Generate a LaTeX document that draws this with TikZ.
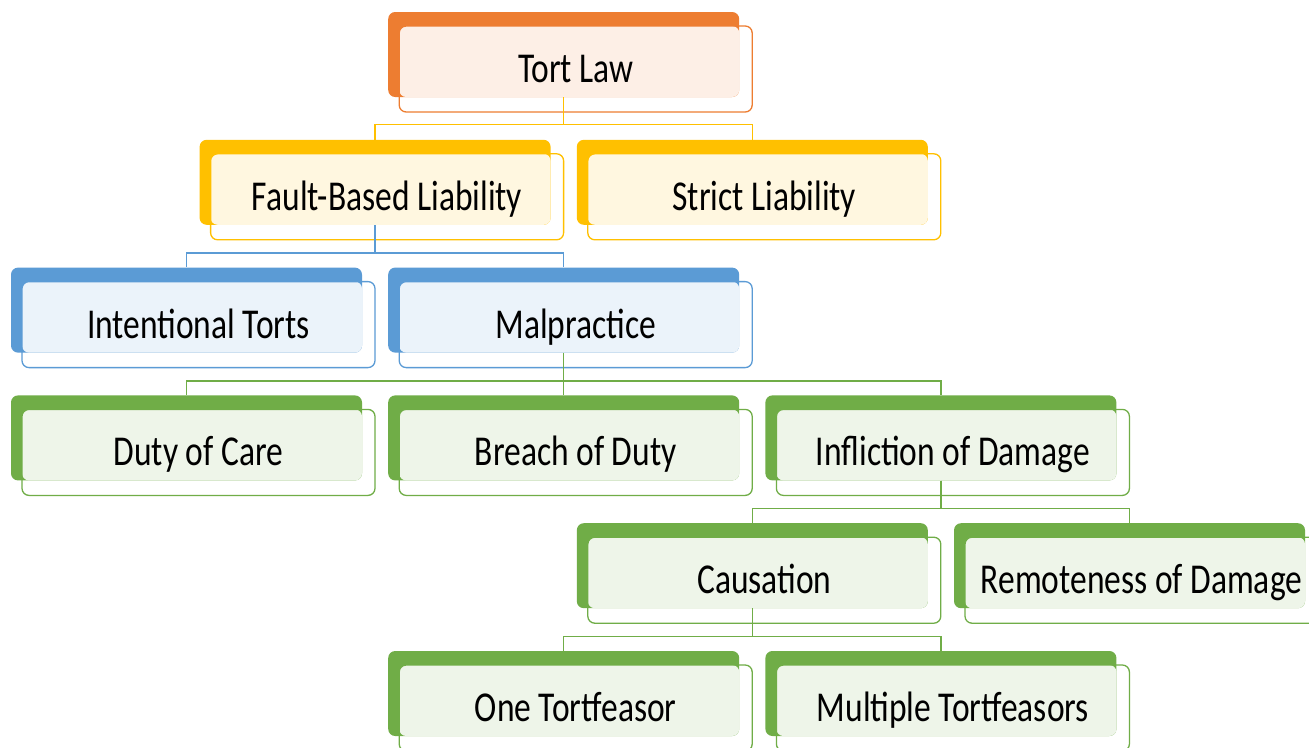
\documentclass[tikz,border=0pt]{standalone}
\usepackage{fontspec}
\setmainfont{Carlito}
\usepackage{graphicx}
\definecolor{cOr}{HTML}{ED7D31}
\definecolor{cYe}{HTML}{FFC000}
\definecolor{cBl}{HTML}{5B9BD5}
\definecolor{cGr}{HTML}{70AD47}
\tikzset{
  backbox/.style={rectangle, rounded corners=7pt, inner sep=0pt, minimum width=351pt, minimum height=85pt},
  frontbox/.style={rectangle, rounded corners=7pt, inner sep=0pt, minimum width=353pt, minimum height=86pt, line width=1.3pt},
  lbl/.style={anchor=base, inner sep=0pt, font=\fontsize{33.5}{40}\selectfont},
  conn/.style={line width=1.4pt},
}
\newcommand\tbox[5]{%
  \pgfmathsetmacro\bx{11+#2*188.6}%
  \pgfmathsetmacro\by{12+#3*127.8}%
  \node[backbox, fill=#4] (#1) at (\bx+175.5,\by+42.5) {};
  \fill[#4!12, rounded corners=7pt] (\bx+11,\by+14) rectangle (\bx+351,\by+85);
  \node[frontbox, draw=#4] (#1-f) at (\bx+187.5,\by+57) {};
  \node[lbl] (#1-t) at (\bx+187.5,\by+70.5) {\scalebox{1}[1.27]{#5}};
}
\begin{document}
\begin{tikzpicture}[x=1pt,y=-1pt]
\useasboundingbox (0,0) rectangle (1309,747);
\clip (0,0) rectangle (1309,747);
\fill[white] (0,0) rectangle (1309,747);
\tbox{tort}{2}{0}{cOr}{Tort Law}
\tbox{fb}{1}{1}{cYe}{Fault-Based Liability}
\tbox{sl}{3}{1}{cYe}{Strict Liability}
\tbox{it}{0}{2}{cBl}{Intentional Torts}
\tbox{mp}{2}{2}{cBl}{Malpractice}
\tbox{dc}{0}{3}{cGr}{Duty of Care}
\tbox{bd}{2}{3}{cGr}{Breach of Duty}
\tbox{id}{4}{3}{cGr}{Infliction of Damage}
\tbox{ca}{3}{4}{cGr}{Causation}
\tbox{rd}{5}{4}{cGr}{Remoteness of Damage}
\tbox{ot}{2}{5}{cGr}{One Tortfeasor}
\tbox{mt}{4}{5}{cGr}{Multiple Tortfeasors}
% connectors
\draw[conn, cYe] (tort.south) -- ++(0pt,-27pt) -| (fb.north);
\draw[conn, cYe] (tort.south) -- ++(0pt,-27pt) -| (sl.north);
\draw[conn, cBl] (fb.south) -- ++(0pt,-28pt) -| (it.north);
\draw[conn, cBl] (fb.south) -- ++(0pt,-28pt) -| (mp.north);
\draw[conn, cGr] (mp.south) -- ++(0pt,-28pt) -| (dc.north);
\draw[conn, cGr] (mp.south) -- ++(0pt,-28pt) -| (bd.north);
\draw[conn, cGr] (mp.south) -- ++(0pt,-28pt) -| (id.north);
\draw[conn, cGr] (id.south) -- ++(0pt,-28pt) -| (ca.north);
\draw[conn, cGr] (id.south) -- ++(0pt,-28pt) -| (rd.north);
\draw[conn, cGr] (ca.south) -- ++(0pt,-28pt) -| (ot.north);
\draw[conn, cGr] (ca.south) -- ++(0pt,-28pt) -| (mt.north);
\end{tikzpicture}
\end{document}
